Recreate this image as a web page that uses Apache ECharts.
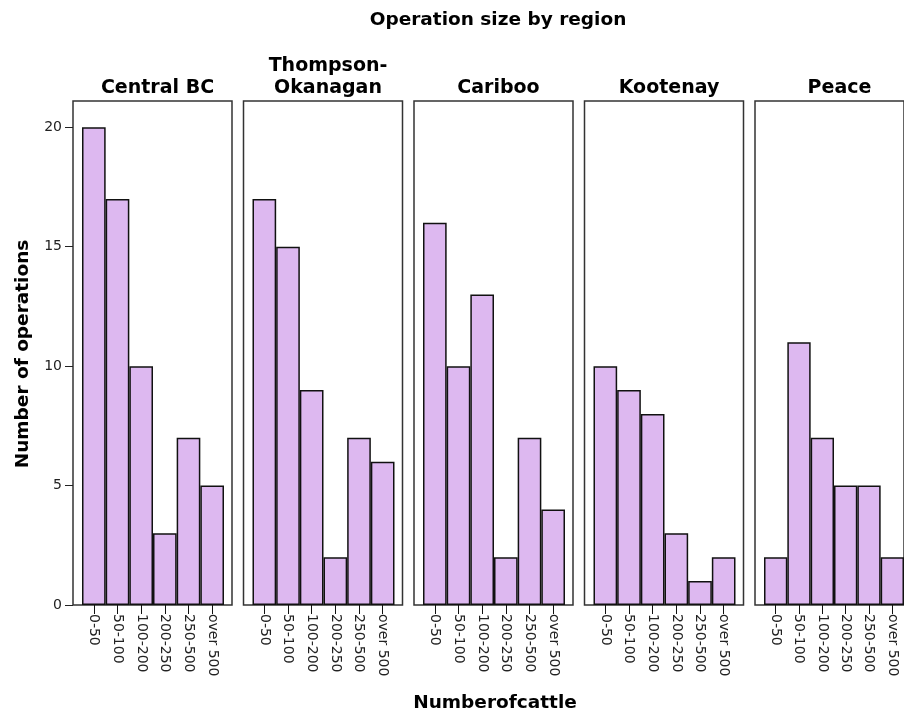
<!DOCTYPE html>
<html>
<head>
<meta charset="utf-8">
<script src="https://cdn.jsdelivr.net/npm/echarts@6/dist/echarts.min.js"></script>
<style>
  html, body { margin: 0; padding: 0; background: #fff; }
  #chart { width: 904px; height: 715px; }
</style>
</head>
<body>
<div id="chart"></div>
<script>
const sizeClasses = ["0-50", "50-100", "100-200", "200-250", "250-500", "over 500"];
const regions = ["Central BC", "Thompson-\nOkanagan", "Cariboo", "Kootenay", "Peace"];
const centralBC = [20, 17, 10, 3, 7, 5];
const thompsonOkanagan = [17, 15, 9, 2, 7, 6];
const cariboo = [16, 10, 13, 2, 7, 4];
const kootenay = [10, 9, 8, 3, 1, 2];
const peace = [2, 11, 7, 5, 5, 2];
const regionCounts = [centralBC, thompsonOkanagan, cariboo, kootenay, peace];
const yTicks = [0, 5, 10, 15, 20];

const font = "DejaVu Sans";
const panelTop = 101, panelHeight = 504;
const firstLeft = 73, step = 170.5, boxWidth = 159;
const padL = 9, innerWidth = 142;
const yMax = 21.1;
const headLine = 22.5;

const grids = [], xAxes = [], yAxes = [], series = [], titles = [];

titles.push({
  text: "Operation size by region",
  left: 493, top: 6, textAlign: "center",
  textStyle: { fontFamily: font, fontSize: 18.5, fontWeight: "bold", color: "#000" }
});

regions.forEach((name, i) => {
  const left = firstLeft + i * step;
  // bars
  grids.push({ left: left + padL, top: panelTop, width: innerWidth, height: panelHeight, show: false });
  xAxes.push({
    type: "category", gridIndex: i, data: sizeClasses,
    axisLine: { show: false },
    axisTick: { show: true, alignWithLabel: true, length: 9, lineStyle: { color: "#111" } },
    axisLabel: { rotate: -90, margin: 9, fontFamily: font, fontSize: 14, color: "#222", interval: 0 }
  });
  yAxes.push({ type: "value", gridIndex: i, min: 0, max: yMax, show: false });
  series.push({
    type: "bar", xAxisIndex: i, yAxisIndex: i,
    data: regionCounts[i],
    barCategoryGap: "0%",
    itemStyle: { color: "#ddb8f0", borderColor: "#111", borderWidth: 1.5 },
    silent: true
  });
  titles.push({
    text: name,
    left: left + boxWidth / 2,
    top: name.indexOf("\n") >= 0 ? 72 - headLine : 72,
    textAlign: "center",
    textStyle: { fontFamily: font, fontSize: 19, fontWeight: "bold", color: "#000", lineHeight: headLine }
  });
});

// panel frames
regions.forEach((name, i) => {
  const left = firstLeft + i * step;
  const gi = regions.length + i;
  grids.push({ left: left, top: panelTop, width: boxWidth, height: panelHeight, show: true,
    borderColor: "#333", borderWidth: 1.5, backgroundColor: "transparent" });
  xAxes.push({ type: "value", gridIndex: gi, min: 0, max: 1, show: false });
  yAxes.push({
    type: "value", gridIndex: gi, min: 0, max: yMax,
    show: i === 0,
    axisLine: { show: false },
    axisTick: { show: true, length: 8, customValues: yTicks, lineStyle: { color: "#222" } },
    splitLine: { show: false },
    axisLabel: { margin: 11, customValues: yTicks, fontFamily: font, fontSize: 14, color: "#222" }
  });
});

const option = {
  animation: false,
  title: titles,
  grid: grids,
  xAxis: xAxes,
  yAxis: yAxes,
  series: series,
  graphic: [
    {
      type: "text", x: 23, y: 354, rotation: Math.PI / 2,
      style: { text: "Number of operations", fontFamily: font, fontSize: 18.5, fontWeight: "bold",
        fill: "#000", align: "center", verticalAlign: "middle" }
    },
    {
      type: "text", x: 495, y: 703,
      style: { text: "Numberofcattle", fontFamily: font, fontSize: 18.5, fontWeight: "bold",
        fill: "#000", align: "center", verticalAlign: "middle" }
    }
  ]
};

const chart = echarts.init(document.getElementById("chart"), null, { renderer: "canvas" });
chart.setOption(option);
</script>
</body>
</html>
